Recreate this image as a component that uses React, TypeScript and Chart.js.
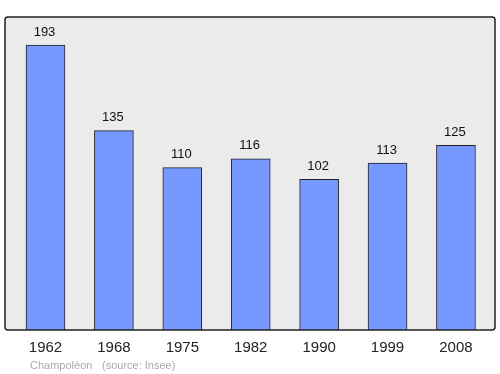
import React, { useEffect, useRef } from "react";
import { Chart, registerables } from "chart.js";

Chart.register(...registerables);

const years = ["1962", "1968", "1975", "1982", "1990", "1999", "2008"];
const population = [193, 135, 110, 116, 102, 113, 125];
const footerPlace = "Champoléon";
const footerSource = "(source: Insee)";

const FONT = "'Liberation Sans', Arial, sans-serif";

const decor = {
  id: "decor",
  beforeDraw(chart: any) {
    const { ctx, chartArea: a } = chart;
    ctx.save();
    ctx.fillStyle = "#ebebeb";
    ctx.beginPath();
    ctx.roundRect(a.left, a.top, a.right - a.left, a.bottom - a.top, 3);
    ctx.fill();
    ctx.restore();
  },
  afterDraw(chart: any) {
    const { ctx, chartArea: a, scales } = chart;
    const x = scales.x;
    const y = scales.y;
    ctx.save();
    ctx.strokeStyle = "#222";
    ctx.lineWidth = 1.5;
    ctx.beginPath();
    ctx.roundRect(a.left, a.top, a.right - a.left, a.bottom - a.top, 3);
    ctx.stroke();

    ctx.textAlign = "center";
    ctx.textBaseline = "middle";
    ctx.fillStyle = "#111";
    ctx.font = `13px ${FONT}`;
    population.forEach((v, i) => {
      ctx.fillText(String(v), x.getPixelForValue(i) - 1, y.getPixelForValue(v) - 13);
    });
    ctx.font = `15px ${FONT}`;
    ctx.fillStyle = "#222";
    years.forEach((yr, i) => {
      ctx.fillText(yr, x.getPixelForValue(i), a.bottom + 18);
    });
    ctx.textAlign = "left";
    ctx.font = `11px ${FONT}`;
    ctx.fillStyle = "#aaaaaa";
    ctx.fillText(footerPlace, 30, a.bottom + 36);
    ctx.fillText(footerSource, 102, a.bottom + 36);
    ctx.restore();
  },
};

export default function App() {
  const ref = useRef<HTMLCanvasElement>(null);
  useEffect(() => {
    if (!ref.current) return;
    const chart = new Chart(ref.current, {
      type: "bar",
      data: {
        datasets: [
          {
            data: population.map((v, i) => ({ x: i, y: v })),
            backgroundColor: "#7799ff",
            borderColor: "#222",
            borderWidth: 1,
            barThickness: 39,
          },
        ],
      },
      options: {
        animation: false,
        responsive: false,
        maintainAspectRatio: false,
        layout: { padding: { left: 5, top: 17, right: 5, bottom: 44 } },
        plugins: { legend: { display: false }, tooltip: { enabled: false } },
        scales: {
          x: { type: "linear", min: -0.592, max: 6.571, offset: false, display: false },
          y: { min: 0, max: 212, display: false },
        },
      },
      plugins: [decor],
    });
    return () => chart.destroy();
  }, []);
  return (
    <div style={{ position: "fixed", left: 0, top: 0, width: 500, height: 374 }}>
      <canvas ref={ref} width={500} height={374} />
    </div>
  );
}
